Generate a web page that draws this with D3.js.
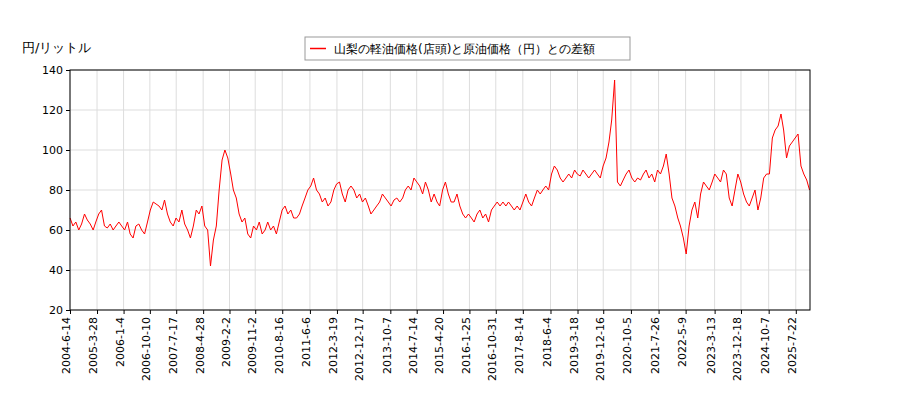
<!DOCTYPE html><html><head><meta charset="utf-8"><script src="https://cdn.jsdelivr.net/npm/d3@7"></script>
<style>body{margin:0;background:#fff}text{font-family:"DejaVu Sans",sans-serif}</style></head><body><svg id="c" width="900" height="400"></svg><script>
const tickLabels=["2004-6-14","2005-3-28","2006-1-4","2006-10-10","2007-7-17","2008-4-28","2009-2-2","2009-11-2","2010-8-16","2011-6-6","2012-3-19","2012-12-17","2013-10-7","2014-7-14","2015-4-20","2016-1-25","2016-10-31","2017-8-14","2018-6-4","2019-3-18","2019-12-16","2020-10-5","2021-7-26","2022-5-9","2023-3-13","2023-12-18","2024-10-7","2025-7-22"];
const yTicks=[20,40,60,80,100,120,140];
const startMonth="2004-06-15";
const values=[66,62,64,60,63,68,65,
63,60,64,68,70,62,61,63,60,62,64,62,
60,64,58,56,62,63,60,58,64,70,74,73,
72,70,75,68,64,62,66,64,70,63,60,56,
62,70,68,72,62,60,42,55,62,80,95,100,
96,88,80,76,68,64,66,58,56,62,60,64,
58,60,64,60,62,58,64,70,72,68,70,66,
66,68,72,76,80,82,86,80,78,74,76,72,
74,80,83,84,78,74,80,82,80,76,78,74,
76,72,68,70,72,74,78,76,74,72,75,76,
74,76,80,82,80,86,84,82,78,84,80,74,
78,74,72,80,84,78,74,74,78,72,68,66,
68,66,64,68,70,66,68,64,70,72,74,72,
74,72,74,72,70,72,70,74,78,74,72,76,
80,78,80,82,80,88,92,90,86,84,86,88,
86,90,88,87,90,88,86,88,90,88,86,92,
96,104,115,135,84,82,85,88,90,86,84,86,
85,88,90,86,88,84,90,88,92,98,88,76,
72,66,62,56,48,62,70,74,66,78,84,82,
80,84,88,86,84,90,88,76,72,80,88,84,
78,74,72,76,80,70,76,86,88,88,106,110,
112,118,110,96,102,104,106,108,92,88,85,80];
const legendLabel="山梨の軽油価格(店頭)と原油価格（円）との差額";
const pd=d3.timeParse("%Y-%m-%d"), pt=d3.timeParse("%Y-%-m-%-d");
const s0=pd(startMonth);
const data=values.map((v,i)=>({d:d3.timeMonth.offset(s0,i),v}));
const svg=d3.select("#c");
const L=70,R=810,T=70,B=310;
const x=d3.scaleTime().domain([pt("2004-6-14"),pt("2025-12-20")]).range([L,R]);
const y=d3.scaleLinear().domain([20,140]).range([B,T]);
const tds=tickLabels.map(pt);
svg.append("g").selectAll("line").data(yTicks).join("line").attr("x1",L).attr("x2",R).attr("y1",d=>y(d)).attr("y2",d=>y(d)).attr("stroke","#ddd");
svg.append("g").selectAll("line").data(tds).join("line").attr("y1",T).attr("y2",B).attr("x1",d=>x(d)).attr("x2",d=>x(d)).attr("stroke","#ddd");
svg.append("path").datum(data).attr("fill","none").attr("stroke","red").attr("stroke-width",1).attr("d",d3.line().x(d=>x(d.d)).y(d=>y(d.v)));
svg.append("rect").attr("x",L).attr("y",T).attr("width",R-L).attr("height",B-T).attr("fill","none").attr("stroke","#000");
const ya=svg.append("g").attr("transform",`translate(${L},0)`).call(d3.axisLeft(y).tickValues(yTicks).tickSize(4).tickFormat(d3.format("d")));
ya.select(".domain").remove();ya.selectAll("text").attr("font-size",11).attr("fill","#000");
const xa=svg.append("g").attr("transform",`translate(0,${B})`).call(d3.axisBottom(x).tickValues(tds).tickSize(4).tickFormat((d,i)=>tickLabels[i]));
xa.select(".domain").remove();
xa.selectAll("text").attr("font-size",11).attr("fill","#000").attr("transform","rotate(-90)").attr("text-anchor","end").attr("x",-7).attr("y",-4).attr("dy","0.35em");
svg.append("text").attr("x",22).attr("y",52).attr("font-size",13).text("円/リットル");
const lg=svg.append("g");
lg.append("rect").attr("x",305).attr("y",37).attr("width",325).attr("height",23).attr("fill","#fff").attr("stroke","#999");
lg.append("line").attr("x1",310).attr("x2",326).attr("y1",48.5).attr("y2",48.5).attr("stroke","red").attr("stroke-width",1.5);
lg.append("text").attr("x",334).attr("y",53).attr("font-size",12).text(legendLabel);
</script></body></html>
